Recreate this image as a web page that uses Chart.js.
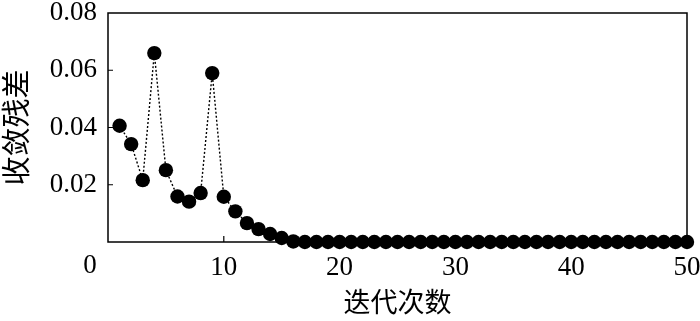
<!DOCTYPE html>
<html><head><meta charset="utf-8">
<script src="https://cdn.jsdelivr.net/npm/chart.js@4"></script>
<style>html,body{margin:0;padding:0;background:#fff}#wrap{width:700px;height:321px}</style>
</head><body><div id="wrap"><canvas id="c" width="700" height="321"></canvas></div>
<script>
const iterations = Array.from({length: 50}, (_, i) => i + 1);
const residuals = [
  0.0406, 0.0342, 0.0216, 0.0660, 0.0251, 0.0159, 0.0141, 0.0171, 0.0590, 0.0158,
  0.0107, 0.0066, 0.0045, 0.0028, 0.0014, 0.0002, 0, 0, 0, 0,
  0, 0, 0, 0, 0, 0, 0, 0, 0, 0,
  0, 0, 0, 0, 0, 0, 0, 0, 0, 0,
  0, 0, 0, 0, 0, 0, 0, 0, 0, 0
];
const xTicks = [0, 10, 20, 30, 40, 50];
const yTicks = [0, 0.02, 0.04, 0.06, 0.08];
const xTitle = '迭代次数';
const yTitle = '收敛残差';

const FONT = "'Liberation Serif', 'Noto Sans CJK SC', serif";

const frame = {
  id: 'frame',
  afterDatasetsDraw(chart) {
    const {ctx, chartArea: a, scales} = chart;
    ctx.save();
    ctx.strokeStyle = '#000';
    ctx.lineWidth = 1.5;
    ctx.strokeRect(a.left, a.top, a.right - a.left, a.bottom - a.top);
    ctx.lineWidth = 1.2;
    ctx.beginPath();
    scales.y.ticks.forEach(t => {
      if (t.value <= 0 || t.value >= 0.08) return;
      const py = scales.y.getPixelForValue(t.value);
      ctx.moveTo(a.left, py); ctx.lineTo(a.left + 5, py);
    });
    scales.x.ticks.forEach(t => {
      if (t.value <= 0 || t.value >= 50) return;
      const px = scales.x.getPixelForValue(t.value);
      ctx.moveTo(px, a.bottom); ctx.lineTo(px, a.bottom - 6);
    });
    ctx.stroke();
    ctx.fillStyle = '#000';
    ctx.font = "27px " + FONT;
    ctx.textAlign = 'center';
    ctx.textBaseline = 'top';
    ctx.fillText(String(xTicks[0]), scales.x.getPixelForValue(0) - 18, a.bottom + 10);
    ctx.restore();
  }
};

new Chart(document.getElementById('c'), {
  type: 'line',
  data: {
    labels: iterations,
    datasets: [{
      data: iterations.map((x, i) => ({x, y: residuals[i]})),
      borderColor: '#000',
      borderWidth: 1.4,
      borderDash: [2, 2],
      pointRadius: 7.2,
      pointBackgroundColor: '#000',
      pointBorderColor: '#000',
      pointBorderWidth: 0,
      tension: 0,
      fill: false,
      clip: false
    }]
  },
  options: {
    responsive: false,
    animation: false,
    events: [],
    layout: {padding: {top: 13, right: 13, left: 0, bottom: 0}},
    plugins: {legend: {display: false}, tooltip: {enabled: false}},
    scales: {
      x: {
        type: 'linear', min: 0, max: 50,
        afterBuildTicks(s) { s.ticks = xTicks.map(v => ({value: v})); },
        afterFit(s) { s.height = 79; s.paddingLeft = 0; s.paddingRight = 0; },
        grid: {display: false, drawTicks: false},
        border: {display: false},
        ticks: {
          color: '#000', padding: 10, maxRotation: 0,
          font: {family: FONT, size: 27},
          callback: v => v === 0 ? '' : String(v)
        },
        title: {display: true, text: xTitle, color: '#000', font: {family: FONT, size: 27}, padding: {top: 2, bottom: 0}}
      },
      y: {
        type: 'linear', min: 0, max: 0.08,
        afterBuildTicks(s) { s.ticks = yTicks.map(v => ({value: v})); },
        afterFit(s) { s.width = 108; s.paddingTop = 0; s.paddingBottom = 0; },
        grid: {display: false, drawTicks: false},
        border: {display: false},
        ticks: {
          color: '#000', padding: 11,
          font: {family: FONT, size: 27},
          callback: v => v === 0 ? '' : v.toFixed(2)
        },
        title: {display: true, text: yTitle, color: '#000', font: {family: FONT, size: 29}, padding: {top: 2, bottom: 0}}
      }
    }
  },
  plugins: [frame]
});
</script></body></html>
